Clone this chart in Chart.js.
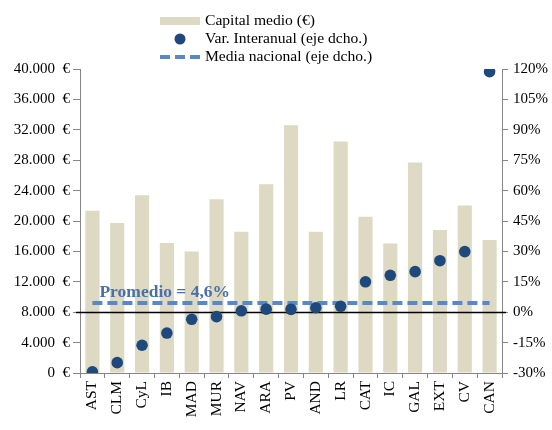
<!DOCTYPE html>
<html>
<head>
<meta charset="utf-8">
<script src="https://cdn.jsdelivr.net/npm/chart.js@4.4.1/dist/chart.umd.min.js"></script>
<style>
  html, body { margin: 0; padding: 0; background: #fff; }
  #wrap { width: 552px; height: 430px; }
</style>
</head>
<body>
<div id="wrap"><canvas id="chart" width="552" height="430"></canvas></div>
<script>
// Datos
const regiones = ['AST', 'CLM', 'CyL', 'IB', 'MAD', 'MUR', 'NAV', 'ARA', 'PV', 'AND', 'LR', 'CAT', 'IC', 'GAL', 'EXT', 'CV', 'CAN'];
const capitalMedio = [21350, 19750, 23400, 17100, 16000, 22850, 18600, 24850, 32600, 18600, 30450, 20550, 17050, 27700, 18800, 22050, 17500];
const varInteranual = [-29.4, -24.9, -16.3, -10.3, -3.5, -2.2, 0.7, 1.5, 1.4, 2.2, 2.9, 15.0, 18.2, 20.0, 25.4, 29.9, 118.7];
const mediaNacional = 4.6;
const leyenda = ['Capital medio (€)', 'Var. Interanual (eje dcho.)', 'Media nacional (eje dcho.)'];
const etiquetaMedia = 'Promedio = 4,6%';

const FONT = 'Liberation Serif, Times New Roman, serif';
const AXIS_GREY = '#868686';
const TAN = '#ddd9c3';
const NAVY = '#1f497d';
const DASH_BLUE = '#5a88c6';

function fmtEuro(v) {
    const s = String(Math.round(v)).replace(/\B(?=(\d{3})+(?!\d))/g, '.');
    return s + '\u00a0 €';
}

// Línea negra del 0% (eje dcho.), dibujada justo después de las barras
const zeroLinePlugin = {
    id: 'zeroLine',
    afterDatasetDraw(chart, args) {
        if (args.index !== 0) return;
        const ctx = chart.ctx;
        const y = Math.round(chart.scales.y1.getPixelForValue(0)) + 0.5;
        ctx.save();
        ctx.strokeStyle = '#000';
        ctx.lineWidth = 1.4;
        ctx.beginPath();
        ctx.moveTo(chart.chartArea.left - 4, y);
        ctx.lineTo(chart.chartArea.right + 4, y);
        ctx.stroke();
        ctx.restore();
    }
};

// Etiqueta "Promedio = 4,6%"
const mediaLabelPlugin = {
    id: 'mediaLabel',
    afterDatasetsDraw(chart) {
        const ctx = chart.ctx;
        const x = chart.scales.x.getPixelForValue(0) + 7;
        const y = chart.scales.y1.getPixelForValue(mediaNacional) - 10;
        ctx.save();
        ctx.font = 'bold 17.5px ' + FONT;
        ctx.fillStyle = '#4a70a8';
        ctx.textAlign = 'left';
        ctx.textBaseline = 'middle';
        ctx.fillText(etiquetaMedia, x, y);
        ctx.restore();
    }
};

// Leyenda vertical centrada arriba
const legendPlugin = {
    id: 'customLegend',
    afterDraw(chart) {
        const ctx = chart.ctx;
        const cx = chart.width / 2;
        const rows = [21, 39, 57];
        const symX = cx - 96;
        ctx.save();
        ctx.font = '15.6px ' + FONT;
        ctx.textBaseline = 'middle';

        // barras
        ctx.fillStyle = TAN;
        ctx.fillRect(symX - 20, rows[0] - 4, 40, 8);
        // punto
        ctx.fillStyle = NAVY;
        ctx.beginPath();
        ctx.arc(symX, rows[1], 5.5, 0, Math.PI * 2);
        ctx.fill();
        // discontinua
        ctx.strokeStyle = DASH_BLUE;
        ctx.lineWidth = 4;
        ctx.setLineDash([10, 5]);
        ctx.beginPath();
        ctx.moveTo(symX - 20, rows[2]);
        ctx.lineTo(symX + 20, rows[2]);
        ctx.stroke();
        ctx.setLineDash([]);

        ctx.fillStyle = '#000';
        leyenda.forEach((t, i) => ctx.fillText(t, symX + 25, rows[i]));
        ctx.restore();
    }
};

new Chart(document.getElementById('chart'), {
    data: {
        labels: regiones,
        datasets: [
            {
                type: 'bar',
                label: leyenda[0],
                data: capitalMedio,
                backgroundColor: TAN,
                yAxisID: 'y',
                categoryPercentage: 1,
                barPercentage: 0.57,
                order: 3
            },
            {
                type: 'line',
                label: leyenda[2],
                data: regiones.map(() => mediaNacional),
                yAxisID: 'y1',
                borderColor: DASH_BLUE,
                borderWidth: 4,
                borderDash: [10, 5],
                pointRadius: 0,
                fill: false,
                order: 2
            },
            {
                type: 'line',
                label: leyenda[1],
                data: varInteranual,
                yAxisID: 'y1',
                showLine: false,
                pointRadius: 5.8,
                pointBackgroundColor: NAVY,
                pointBorderColor: NAVY,
                pointBorderWidth: 0,
                order: 1
            }
        ]
    },
    options: {
        responsive: false,
        animation: false,
        devicePixelRatio: 1,
        layout: { padding: { top: 69, left: 0, right: 0, bottom: 0 } },
        plugins: {
            legend: { display: false },
            tooltip: { enabled: false }
        },
        scales: {
            x: {
                offset: true,
                grid: {
                    offset: true,
                    drawOnChartArea: false,
                    drawTicks: true,
                    tickLength: 5,
                    color: AXIS_GREY
                },
                border: { color: AXIS_GREY },
                ticks: {
                    font: { family: FONT, size: 15.5 },
                    color: '#000',
                    minRotation: 90,
                    maxRotation: 90,
                    autoSkip: false,
                    padding: 3
                },
                afterFit(s) { s.height = 57; }
            },
            y: {
                position: 'left',
                min: 0,
                max: 40000,
                grid: {
                    drawOnChartArea: false,
                    drawTicks: true,
                    tickLength: 7,
                    color: AXIS_GREY
                },
                border: { color: AXIS_GREY },
                ticks: {
                    stepSize: 4000,
                    font: { family: FONT, size: 15 },
                    color: '#000',
                    padding: 3,
                    callback: v => fmtEuro(v)
                },
                afterFit(s) { s.width = 80; }
            },
            y1: {
                position: 'right',
                min: -30,
                max: 120,
                grid: {
                    drawOnChartArea: false,
                    drawTicks: true,
                    tickLength: 6,
                    color: AXIS_GREY
                },
                border: { color: AXIS_GREY },
                ticks: {
                    stepSize: 15,
                    font: { family: FONT, size: 15 },
                    color: '#000',
                    padding: 5,
                    callback: v => v + '%'
                },
                afterFit(s) { s.width = 50; }
            }
        }
    },
    plugins: [zeroLinePlugin, mediaLabelPlugin, legendPlugin]
});
</script>
</body>
</html>
